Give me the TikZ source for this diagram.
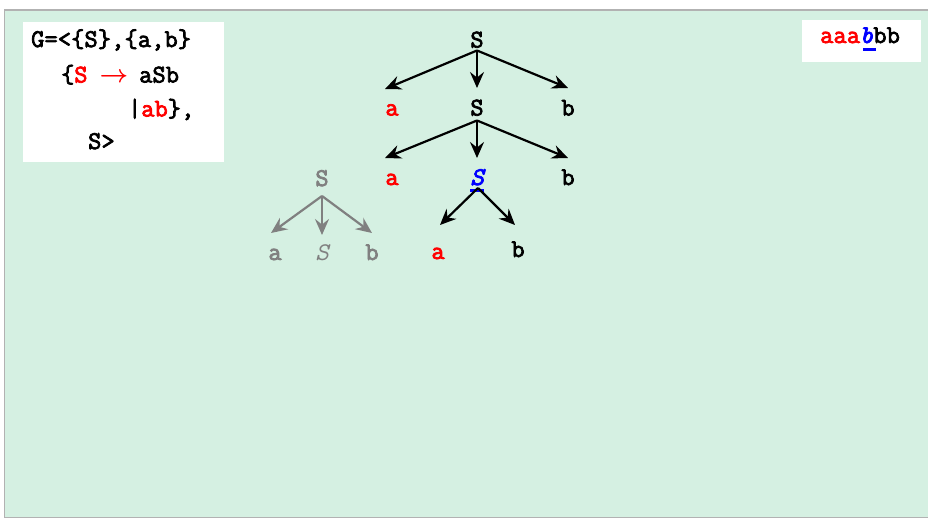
\documentclass[tikz,border=0pt]{standalone}
\usepackage{fontspec}
\newfontfamily\codefont{Latin Modern Mono}[AutoFakeBold=3, LetterSpace=0.8]
\newfontfamily\codeit{lmmono10-italic.otf}[FakeBold=3, LetterSpace=0.8]
\usetikzlibrary{arrows.meta}
\definecolor{panel}{RGB}{213,240,226}
\definecolor{rim}{RGB}{178,178,178}
\definecolor{shade}{RGB}{128,128,128}
\newcommand\tfont{\fontsize{25.5}{30}\selectfont\codefont\bfseries}
\newcommand\ifont{\fontsize{25.5}{30}\selectfont\codeit}
\begin{document}
\begin{tikzpicture}[x=1pt,y=1pt,
  every node/.style = {inner sep=0pt, anchor=base, font=\tfont},
  term/.style   = {text=red},
  focus/.style  = {text=blue, font=\ifont},
  ghost/.style  = {text=shade},
  line/.style   = {anchor=base west},
  arr/.style    = {line width=2.2pt, -{Stealth[length=16pt,width=14pt,inset=5.5pt]}},
  garr/.style   = {arr, draw=shade}]
\useasboundingbox (0,0) rectangle (928,-520);
\fill[white] (0,0) rectangle (928,-520);
\filldraw[fill=panel, draw=rim, line width=1.5pt] (4.5,-10) rectangle (940,-517.5);
% grammar box
\fill[white] (23,-22) rectangle (224,-162);
\node[line] (g1) at (31,-47) {G=<\{S\},\{a,b\}};
\node[line] (g2) at (61,-82.5) {\{\textcolor{red}{S}};
\node (g3) at (114,-82.5) {\textcolor{red}{\boldmath$\rightarrow$}};
\node[line] (g4) at (139,-82.5) {aSb};
\node[line] (g5) at (128,-116.5) {|\textcolor{red}{ab}\},};
\node[line] (g6) at (88,-149) {S>};
% sentence box
\fill[white] (802,-20) rectangle (921,-62);
\node[line] (w) at (820,-43) {\textcolor{red}{aaa}\textcolor{blue}{\ifont b}bb};
\fill[blue] (863,-47.5) rectangle (876,-50.5);
% main tree
\node (s0) at (477,-47.5) {S};
\node[term] (a1) at (392,-115.5) {a};
\node (s1) at (477,-115.5) {S};
\node (b1) at (568,-115.5) {b};
\node[term] (a2) at (392,-185) {a};
\node[focus] (s2) at (477,-185) {S};
\node (b2) at (568,-185) {b};
\node[term] (a3) at (438,-259) {a};
\node (b3) at (518,-257) {b};
\fill[blue] (470,-189.3) rectangle (484,-191.7);
\draw[arr] ([yshift=-3pt]s0.base) -- ([shift={(-7,26.5)}]a1.base);
\draw[arr] ([yshift=-3pt]s0.base) -- ([yshift=27.5pt]s1.base);
\draw[arr] ([yshift=-3pt]s0.base) -- ([yshift=27.5pt]b1.base);
\draw[arr] ([yshift=-5pt]s1.base) -- ([shift={(-7,27)}]a2.base);
\draw[arr] ([yshift=-5pt]s1.base) -- ([yshift=27pt]s2.base);
\draw[arr] ([yshift=-5pt]s1.base) -- ([yshift=27pt]b2.base);
\draw[arr] ([shift={(1,-3)}]s2.base) -- ([shift={(2,34)}]a3.base);
\draw[arr] ([shift={(1,-3)}]s2.base) -- ([shift={(-3,32)}]b3.base);
% rule S -> aSb, greyed
\node[ghost] (t0) at (322,-186) {S};
\node[ghost] (ta) at (275,-260) {a};
\node[ghost, font=\tfont\mdseries\itshape] (ts) at (322,-260) {S};
\node[ghost] (tb) at (372,-260) {b};
\draw[garr] ([yshift=-10pt]t0.base) -- ([shift={(-4,27)}]ta.base);
\draw[garr] ([yshift=-10pt]t0.base) -- ([yshift=25pt]ts.base);
\draw[garr] ([yshift=-10pt]t0.base) -- ([yshift=27pt]tb.base);
\end{tikzpicture}
\end{document}
